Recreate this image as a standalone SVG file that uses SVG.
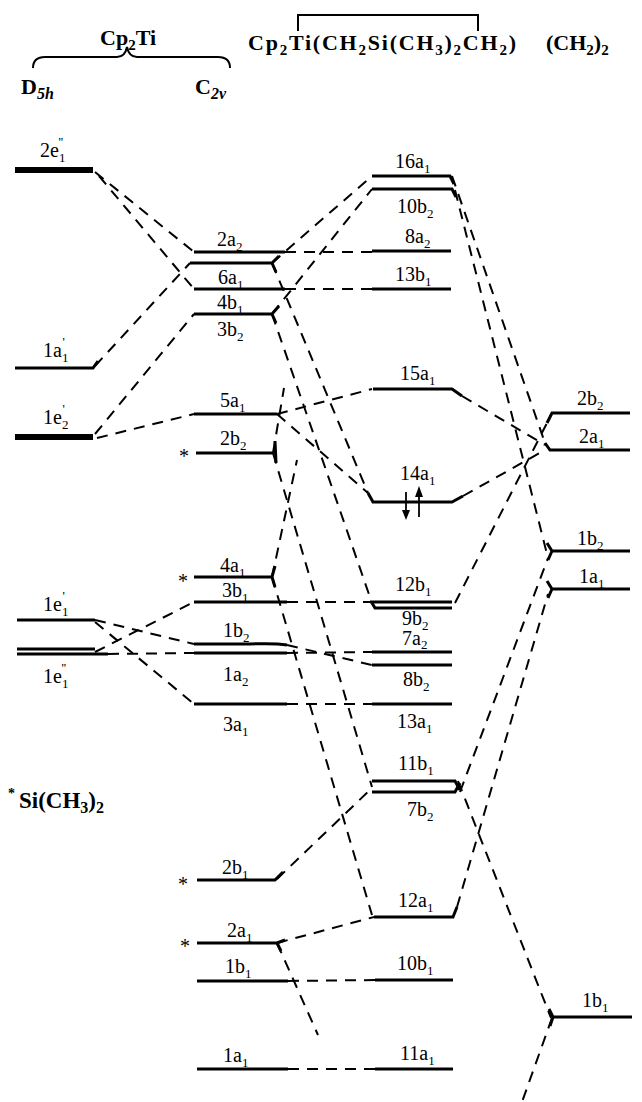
<svg xmlns="http://www.w3.org/2000/svg" width="642" height="1102" viewBox="0 0 642 1102">
<style>
.lv{stroke:#000;stroke-width:3;fill:none}
.tk{stroke-width:6}
.d{stroke:#000;stroke-width:2;stroke-dasharray:11 8;fill:none}
.t{font-family:"Liberation Serif","Times New Roman",serif;font-size:20px;fill:#000}
.s{font-size:13px}
.h{font-family:"Liberation Serif","Times New Roman",serif;font-weight:bold;font-size:22px;fill:#000}
.hs{font-size:15px}
</style>
<rect width="642" height="1102" fill="#fff"/>
<g id="header">
<text class="h" x="100" y="45">Cp<tspan class="hs" dy="5">2</tspan><tspan dy="-5">Ti</tspan></text>
<path d="M33,68 Q33,57 45,57 L117,57 Q125,57 127,47 Q129,57 137,57 L218,57 Q230,57 230,68" stroke="#000" stroke-width="2" fill="none"/>
<text class="h" x="21" y="94" font-size="23">D<tspan font-size="16" dy="5" font-style="italic">5h</tspan></text>
<text class="h" x="195" y="94" font-size="23">C<tspan font-size="16" dy="5" font-style="italic">2v</tspan></text>
<text class="h" x="248" y="50" font-size="25" textLength="268" lengthAdjust="spacing">Cp<tspan class="hs" dy="5">2</tspan><tspan dy="-5">Ti(CH</tspan><tspan class="hs" dy="5">2</tspan><tspan dy="-5">Si(CH</tspan><tspan class="hs" dy="5">3</tspan><tspan dy="-5">)</tspan><tspan class="hs" dy="5">2</tspan><tspan dy="-5">CH</tspan><tspan class="hs" dy="5">2</tspan><tspan dy="-5">)</tspan></text>
<path d="M298,31 L298,15 L478,15 L478,31" stroke="#000" stroke-width="2" fill="none"/>
<text class="h" x="546" y="50" font-size="26">(CH<tspan class="hs" font-size="17" dy="5">2</tspan><tspan dy="-5">)</tspan><tspan class="hs" font-size="17" dy="5">2</tspan></text>
<text class="h" x="8" y="808"><tspan font-size="14" dy="-10">*</tspan><tspan dx="4" dy="10" font-size="23">Si(CH</tspan><tspan font-size="16" dy="5">3</tspan><tspan font-size="23" dy="-5">)</tspan><tspan font-size="16" dy="5">2</tspan></text>
</g>
<g id="connectors">
<path class="d" d="M95,172 L194,252"/>
<path class="d" d="M99,176 L194,289"/>
<path class="d" d="M95,366 L190,263"/>
<path class="d" d="M95,434 L194,314"/>
<path class="d" d="M97,438 L194,414"/>
<path class="d" d="M285,252 L372,252"/>
<path class="d" d="M272,263 L372,176"/>
<path class="d" d="M285,289 L372,289"/>
<path class="d" d="M272,314 L372,189"/>
<path class="d" d="M272,263 L368,493"/>
<path class="d" d="M272,314 L372,603"/>
<path class="d" d="M277,414 L372,389"/>
<path class="d" d="M277,414 L368,493"/>
<path class="d" d="M273,453 L372,787"/>
<path class="d" d="M273,453 L284,388"/>
<path class="d" d="M272,577 L372,915"/>
<path class="d" d="M272,577 L297,460"/>
<path class="d" d="M287,602 L372,602"/>
<path class="d" d="M287,653 L372,652"/>
<path class="d" d="M287,645 L372,665"/>
<path class="d" d="M287,704 L372,704"/>
<path class="d" d="M95,620 L194,644"/>
<path class="d" d="M95,622 L194,704"/>
<path class="d" d="M95,652 L194,602"/>
<path class="d" d="M108,654 L194,653"/>
<path class="d" d="M277,879 L372,788"/>
<path class="d" d="M277,943 L374,917"/>
<path class="d" d="M277,943 L318,1035"/>
<path class="d" d="M288,981 L375,980"/>
<path class="d" d="M288,1069 L375,1069"/>
<path class="d" d="M452,176 L545,443"/>
<path class="d" d="M455,190 L548,558"/>
<path class="d" d="M462,396 L545,445"/>
<path class="d" d="M463,496 L545,450"/>
<path class="d" d="M455,603 L547,423"/>
<path class="d" d="M460,792 L548,558"/>
<path class="d" d="M457,907 L548,594"/>
<path class="d" d="M458,781 L551,1018"/>
<path class="d" d="M552,1018 L522,1102"/>
</g>
<g id="d5h-2e1pp"><path class="lv tk" d="M15,170 L93,170"/><text class="t" x="40" y="157">2e<tspan class="s" dy="5">1</tspan><tspan class="s" dx="-7" dy="-16">''</tspan></text></g>
<g id="d5h-1a1p"><path class="lv" d="M15,368 L93,368 L98,361"/><text class="t" x="43" y="357">1a<tspan class="s" dy="5">1</tspan><tspan class="s" dx="-6" dy="-16">'</tspan></text></g>
<g id="d5h-1e2p"><path class="lv tk" d="M15,437 L93,437"/><text class="t" x="43" y="424">1e<tspan class="s" dy="5">2</tspan><tspan class="s" dx="-6" dy="-16">'</tspan></text></g>
<g id="d5h-1e1p"><path class="lv" stroke-width="5" d="M17,620 L95,620"/><text class="t" x="43" y="611">1e<tspan class="s" dy="5">1</tspan><tspan class="s" dx="-6" dy="-16">'</tspan></text></g>
<g id="d5h-1e1pp"><path class="lv" stroke-width="2.5" d="M17,649 L95,649"/><path class="lv" stroke-width="2" d="M17,654 L108,654"/><text class="t" x="43" y="683">1e<tspan class="s" dy="5">1</tspan><tspan class="s" dx="-7" dy="-16">''</tspan></text></g>

<g id="c2v-2a2"><path class="lv" d="M194,252 L285,252"/><text class="t" x="217" y="246">2a<tspan class="s" dy="5">2</tspan></text></g>
<g id="c2v-6a1"><path class="lv" d="M190,263 L272,263 L279,256 M272,263 L276,272"/><text class="t" x="218" y="284">6a<tspan class="s" dy="5">1</tspan></text></g>
<g id="c2v-4b1"><path class="lv" d="M194,289 L285,289"/><text class="t" x="217" y="309">4b<tspan class="s" dy="5">1</tspan></text></g>
<g id="c2v-3b2"><path class="lv" d="M194,314 L272,314 L279,306 M272,314 L276,323"/><text class="t" x="217" y="336">3b<tspan class="s" dy="5">2</tspan></text></g>
<g id="c2v-5a1"><path class="lv" d="M194,414 L277,414"/><text class="t" x="220" y="407">5a<tspan class="s" dy="5">1</tspan></text></g>
<g id="c2v-2b2"><path class="lv" d="M196,453 L273,453 M275,441 L276,463"/><text class="t" x="220" y="445">2b<tspan class="s" dy="5">2</tspan></text><text class="t" x="179" y="463" font-size="16">*</text></g>
<g id="c2v-4a1"><path class="lv" d="M194,577 L272,577 L275,566 M272,577 L275,587"/><text class="t" x="220" y="572">4a<tspan class="s" dy="5">1</tspan></text><text class="t" x="178" y="588" font-size="16">*</text></g>
<g id="c2v-3b1"><path class="lv" d="M194,602 L287,602"/><text class="t" x="222" y="597">3b<tspan class="s" dy="5">1</tspan></text></g>
<g id="c2v-1b2"><path class="lv" stroke-width="2.5" d="M194,644 L250,644 Q275,643 287,645"/><text class="t" x="223" y="637">1b<tspan class="s" dy="5">2</tspan></text></g>
<g id="c2v-1a2"><path class="lv" d="M194,653 L287,653"/><text class="t" x="223" y="681">1a<tspan class="s" dy="5">2</tspan></text></g>
<g id="c2v-3a1"><path class="lv" d="M194,704 L287,704"/><text class="t" x="223" y="731">3a<tspan class="s" dy="5">1</tspan></text></g>
<g id="c2v-2b1"><path class="lv" d="M197,880 L275,880 L283,872"/><text class="t" x="222" y="874">2b<tspan class="s" dy="5">1</tspan></text><text class="t" x="178" y="891" font-size="16">*</text></g>
<g id="c2v-2a1"><path class="lv" d="M197,943 L277,943 L285,940 M277,943 L281,951"/><text class="t" x="227" y="937">2a<tspan class="s" dy="5">1</tspan></text><text class="t" x="180" y="953" font-size="16">*</text></g>
<g id="c2v-1b1"><path class="lv" d="M197,981 L288,981"/><text class="t" x="225" y="973">1b<tspan class="s" dy="5">1</tspan></text></g>
<g id="c2v-1a1"><path class="lv" d="M197,1069 L288,1069"/><text class="t" x="223" y="1062">1a<tspan class="s" dy="5">1</tspan></text></g>

<g id="cx-16a1"><path class="lv" d="M372,176 L450,176 L454,184"/><text class="t" x="395" y="168">16a<tspan class="s" dy="5">1</tspan></text></g>
<g id="cx-10b2"><path class="lv" d="M372,189 L452,189 L456,197"/><text class="t" x="397" y="213">10b<tspan class="s" dy="5">2</tspan></text></g>
<g id="cx-8a2"><path class="lv" d="M372,251 L451,251"/><text class="t" x="405" y="243">8a<tspan class="s" dy="5">2</tspan></text></g>
<g id="cx-13b1"><path class="lv" d="M372,289 L451,289"/><text class="t" x="395" y="281">13b<tspan class="s" dy="5">1</tspan></text></g>
<g id="cx-15a1"><path class="lv" d="M373,389 L452,389 L462,396"/><text class="t" x="400" y="380">15a<tspan class="s" dy="5">1</tspan></text></g>
<g id="cx-14a1"><path class="lv" d="M368,493 L373,502 L452,502 L463,496"/><text class="t" x="400" y="480">14a<tspan class="s" dy="5">1</tspan></text>
<path d="M406,492 L406,512" stroke="#000" stroke-width="1.8"/><polygon points="402,510 410,510 406,520"/>
<path d="M419,517 L419,495" stroke="#000" stroke-width="1.8"/><polygon points="415,497 423,497 419,486"/></g>
<g id="cx-12b1"><path class="lv" d="M370,602 L452,602"/><text class="t" x="395" y="591">12b<tspan class="s" dy="5">1</tspan></text></g>
<g id="cx-9b2"><path class="lv" stroke-width="2.5" d="M372,603 L375,608 L452,608"/><text class="t" x="402" y="625">9b<tspan class="s" dy="5">2</tspan></text></g>
<g id="cx-7a2"><path class="lv" d="M372,652 L452,652"/><text class="t" x="402" y="645">7a<tspan class="s" dy="4">2</tspan></text></g>
<g id="cx-8b2"><path class="lv" d="M372,665 L452,665"/><text class="t" x="403" y="686">8b<tspan class="s" dy="5">2</tspan></text></g>
<g id="cx-13a1"><path class="lv" d="M372,704 L452,704"/><text class="t" x="397" y="728">13a<tspan class="s" dy="5">1</tspan></text></g>
<g id="cx-11b1"><path class="lv" d="M372,781 L455,781 L460,790"/><text class="t" x="398" y="770">11b<tspan class="s" dy="5">1</tspan></text></g>
<g id="cx-7b2"><path class="lv" d="M372,792 L455,792 L460,783"/><text class="t" x="407" y="816">7b<tspan class="s" dy="5">2</tspan></text></g>
<g id="cx-12a1"><path class="lv" d="M374,917 L453,917 L457,907"/><text class="t" x="398" y="907">12a<tspan class="s" dy="5">1</tspan></text></g>
<g id="cx-10b1"><path class="lv" d="M375,980 L453,980"/><text class="t" x="397" y="970">10b<tspan class="s" dy="5">1</tspan></text></g>
<g id="cx-11a1"><path class="lv" d="M375,1069 L453,1069"/><text class="t" x="400" y="1060">11a<tspan class="s" dy="5">1</tspan></text></g>

<g id="ch2-2b2"><path class="lv" d="M547,423 L552,413 L630,413"/><text class="t" x="577" y="405">2b<tspan class="s" dy="5">2</tspan></text></g>
<g id="ch2-2a1"><path class="lv" d="M545,443 L550,450 L630,450"/><text class="t" x="579" y="443">2a<tspan class="s" dy="5">1</tspan></text></g>
<g id="ch2-1b2"><path class="lv" d="M547,543 L552,551 L630,551 M552,551 L548,560"/><text class="t" x="577" y="545">1b<tspan class="s" dy="5">2</tspan></text></g>
<g id="ch2-1a1"><path class="lv" d="M547,581 L552,589 L630,589 M552,589 L548,598"/><text class="t" x="579" y="583">1a<tspan class="s" dy="5">1</tspan></text></g>
<g id="ch2-1b1"><path class="lv" d="M549,1009 L553,1017 L632,1017 M553,1017 L550,1026"/><text class="t" x="582" y="1007">1b<tspan class="s" dy="5">1</tspan></text></g>
</svg>
